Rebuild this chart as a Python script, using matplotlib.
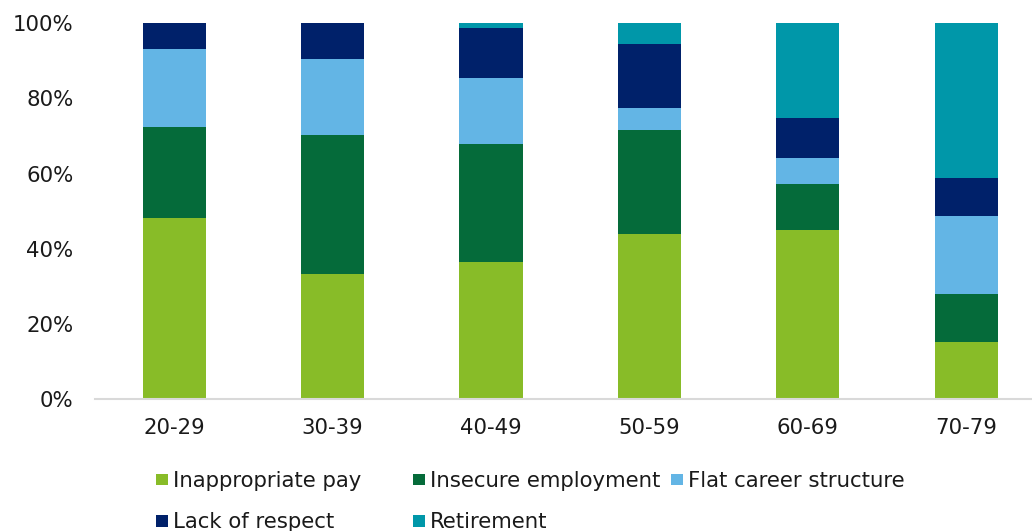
import matplotlib
matplotlib.use("Agg")
import matplotlib.pyplot as plt
import numpy as np
from matplotlib.patches import Rectangle
from matplotlib.ticker import FuncFormatter

categories = ["20-29", "30-39", "40-49", "50-59", "60-69", "70-79"]
inappropriate_pay = [48.2, 33.2, 36.5, 44.0, 44.9, 15.2]
insecure_employment = [24.1, 37.2, 31.3, 27.7, 12.4, 12.9]
flat_career = [20.8, 20.0, 17.7, 5.9, 6.8, 20.6]
lack_of_respect = [6.9, 9.6, 13.3, 17.0, 10.8, 10.2]
retirement = [0.0, 0.0, 1.2, 5.4, 25.1, 41.1]

series = [
    ("Inappropriate pay", inappropriate_pay, "#88BC28"),
    ("Insecure employment", insecure_employment, "#056B3A"),
    ("Flat career structure", flat_career, "#63B5E5"),
    ("Lack of respect", lack_of_respect, "#00216A"),
    ("Retirement", retirement, "#0097A9"),
]

W, H = 1032, 531
FS = 15.3
TXT = "#1a1a1a"
fig = plt.figure(figsize=(W / 100, H / 100), dpi=100)
ax = fig.add_axes([95 / W, (H - 399.3) / H, (W - 95) / W, (399.3 - 23.3) / H])

x = np.arange(len(categories))
bottom = np.zeros(len(categories))
for name, vals, col in series:
    v = np.array(vals) / 100.0
    ax.bar(x, v, width=0.398, bottom=bottom, color=col, edgecolor="none", zorder=2)
    bottom += v

ax.set_ylim(0, 1)
ax.set_xlim(-0.5, -0.5 + (W - 95) / 158.4)
ax.set_yticks([0, 0.2, 0.4, 0.6, 0.8, 1.0])
ax.yaxis.set_major_formatter(FuncFormatter(lambda v, p: f"{int(round(v * 100))}%"))
ax.set_xticks(x)
ax.set_xticklabels(categories)
for s in ["top", "left", "right"]:
    ax.spines[s].set_visible(False)
ax.spines["bottom"].set_color("#D9D9D9")
ax.spines["bottom"].set_linewidth(1.5)
ax.tick_params(axis="both", length=0, labelsize=FS, colors=TXT)
ax.tick_params(axis="y", pad=15.5)
ax.tick_params(axis="x", pad=13.5)

# manual legend laid out like the reference (row-major, equal column widths)
col_x = [156, 413.3, 671]
row_base = [486.7, 528.3]
for i, (name, vals, col) in enumerate(series):
    r, c = divmod(i, 3)
    x0 = col_x[c]
    yb = row_base[r]
    fig.patches.append(Rectangle((x0 / W, 1 - (yb - 1.5) / H), 11.5 / W, 11.7 / H,
                                 transform=fig.transFigure, facecolor=col,
                                 edgecolor="none"))
    fig.text((x0 + 17) / W, 1 - yb / H, name, fontsize=FS, color=TXT,
             ha="left", va="baseline")

fig.savefig("out.png", dpi=100)
